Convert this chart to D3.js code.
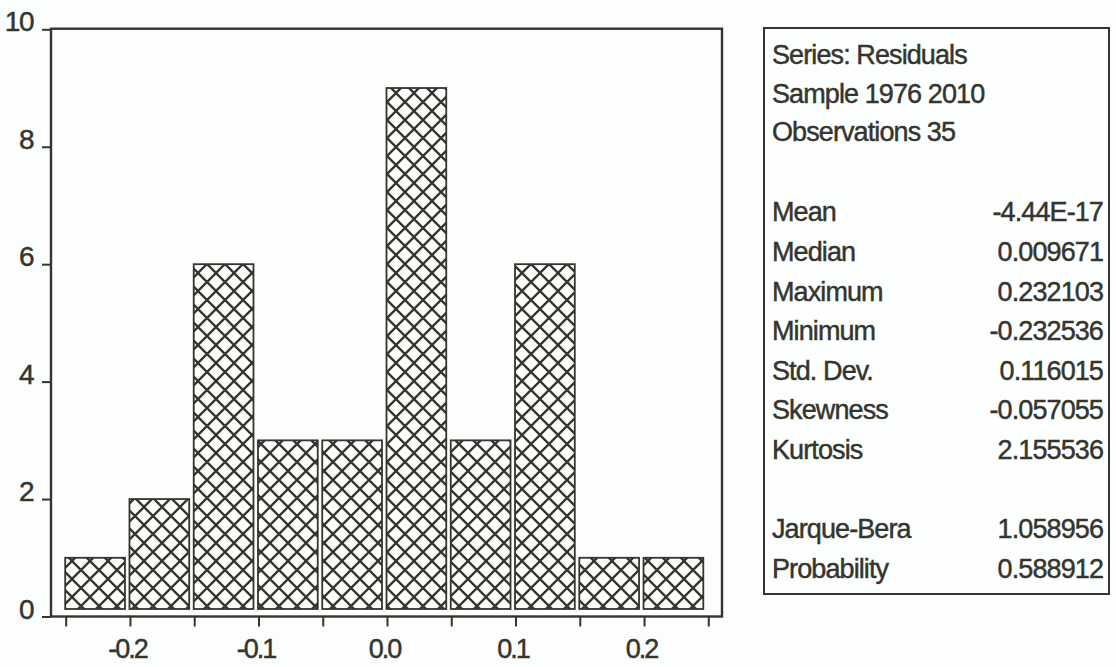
<!DOCTYPE html>
<html>
<head>
<meta charset="utf-8">
<script src="https://cdn.jsdelivr.net/npm/d3@7"></script>
<style>
  html, body { margin: 0; padding: 0; background: #fcfdfd; }
  svg { display: block; }
  text { font-family: "Liberation Sans", Arial, sans-serif; fill: #34352d; stroke: #34352d; stroke-width: 0.45px; }
</style>
</head>
<body>
<svg id="chart" width="1116" height="667"></svg>
<script>
// ---- data ----
const binStarts = [-0.25, -0.20, -0.15, -0.10, -0.05, 0.00, 0.05, 0.10, 0.15, 0.20];
const binWidth = 0.05;
const counts = [1, 2, 6, 3, 3, 9, 3, 6, 1, 1];
const yTicks = [0, 2, 4, 6, 8, 10];
const xTicks = [-0.25, -0.20, -0.15, -0.10, -0.05, 0.00, 0.05, 0.10, 0.15, 0.20, 0.25];
const xTickLabels = { "-0.2": "-0.2", "-0.1": "-0.1", "0": "0.0", "0.1": "0.1", "0.2": "0.2" };
const headerLines = ["Series: Residuals", "Sample 1976 2010", "Observations 35"];
const statLabels = ["Mean", "Median", "Maximum", "Minimum", "Std. Dev.", "Skewness", "Kurtosis"];
const statValues = ["-4.44E-17", "0.009671", "0.232103", "-0.232536", "0.116015", "-0.057055", "2.155536"];
const testLabels = ["Jarque-Bera", "Probability"];
const testValues = ["1.058956", "0.588912"];

// ---- layout ----
const ink = "#34352d";
const frame = { left: 51, top: 28.7, right: 722, bottom: 616.5 };
const svg = d3.select("#chart");

const x = d3.scaleLinear().domain([-0.25, 0.25]).range([65.7, 708.3]);
const y = d3.scaleLinear().domain([0, 10]).range([frame.bottom, frame.top + 0.6]);

// hatch pattern
const defs = svg.append("defs");
const pat = defs.append("pattern")
  .attr("id", "xhatch")
  .attr("patternUnits", "userSpaceOnUse")
  .attr("width", 18).attr("height", 18)
  .attr("x", 0).attr("y", 3);
pat.append("rect").attr("width", 18).attr("height", 18).attr("fill", "#fdfefe");
pat.append("path")
  .attr("d", "M-2,-2L20,20M20,-2L-2,20")
  .attr("stroke", ink).attr("stroke-width", 2.3).attr("fill", "none");

// plot background
svg.append("rect")
  .attr("x", frame.left).attr("y", frame.top)
  .attr("width", frame.right - frame.left).attr("height", frame.bottom - frame.top)
  .attr("fill", "#fdfefe");

// bars
svg.append("g").selectAll("rect")
  .data(binStarts.map((s, i) => ({ s, c: counts[i] })))
  .join("rect")
  .attr("x", d => x(d.s) - 0.5)
  .attr("width", d => x(d.s + binWidth) - x(d.s) - 4.5)
  .attr("y", d => y(d.c))
  .attr("height", d => y(0) - 7.5 - y(d.c))
  .attr("fill", "url(#xhatch)")
  .attr("stroke", ink)
  .attr("stroke-width", 1.8);

// frame
svg.append("rect")
  .attr("x", frame.left).attr("y", frame.top)
  .attr("width", frame.right - frame.left).attr("height", frame.bottom - frame.top)
  .attr("fill", "none").attr("stroke", ink).attr("stroke-width", 2.4);

// y axis
const yAxis = svg.append("g")
  .attr("transform", `translate(${frame.left},0)`)
  .call(d3.axisLeft(y).tickValues(yTicks).tickSize(9).tickPadding(9).tickFormat(d3.format("d")));
yAxis.select(".domain").remove();
yAxis.selectAll(".tick line").attr("stroke", ink).attr("stroke-width", 2);
yAxis.selectAll(".tick text")
  .attr("dy", "0.06em")
  .attr("fill", ink)
  .style("font-size", "28px")
  .style("font-family", '"Liberation Sans", Arial, sans-serif')
  .style("letter-spacing", "-1.5px");

// x axis
const xAxis = svg.append("g")
  .attr("transform", `translate(0,${frame.bottom})`)
  .call(d3.axisBottom(x).tickValues(xTicks).tickSize(10).tickPadding(12)
    .tickFormat(d => xTickLabels[String(+d.toFixed(2))] || ""));
xAxis.select(".domain").remove();
xAxis.selectAll(".tick line").attr("stroke", ink).attr("stroke-width", 2);
xAxis.selectAll(".tick text")
  .attr("dx", "-3")
  .attr("fill", ink)
  .style("font-size", "27px")
  .style("font-family", '"Liberation Sans", Arial, sans-serif')
  .style("letter-spacing", "-2px");

// stats box
const box = { left: 764, top: 28, right: 1109, bottom: 594 };
svg.append("rect")
  .attr("x", box.left).attr("y", box.top)
  .attr("width", box.right - box.left).attr("height", box.bottom - box.top)
  .attr("fill", "#fdfefe").attr("stroke", ink).attr("stroke-width", 2);

const pitch = 39.6;
const firstBase = 64;
const textX = 772;
const valueX = 1103;
const fs = "27px";

const g = svg.append("g").style("font-size", fs).style("letter-spacing", "-0.9px");
headerLines.forEach((t, i) => {
  g.append("text").attr("x", textX).attr("y", firstBase + i * 38.5).text(t);
});
statLabels.forEach((t, i) => {
  const yy = firstBase + (i + 4) * pitch - 1;
  g.append("text").attr("x", textX).attr("y", yy).text(t);
  g.append("text").attr("x", valueX).attr("y", yy).attr("text-anchor", "end").text(statValues[i]);
});
testLabels.forEach((t, i) => {
  const yy = firstBase + (i + 12) * pitch - 1;
  g.append("text").attr("x", textX).attr("y", yy).text(t);
  g.append("text").attr("x", valueX).attr("y", yy).attr("text-anchor", "end").text(testValues[i]);
});
</script>
</body>
</html>
